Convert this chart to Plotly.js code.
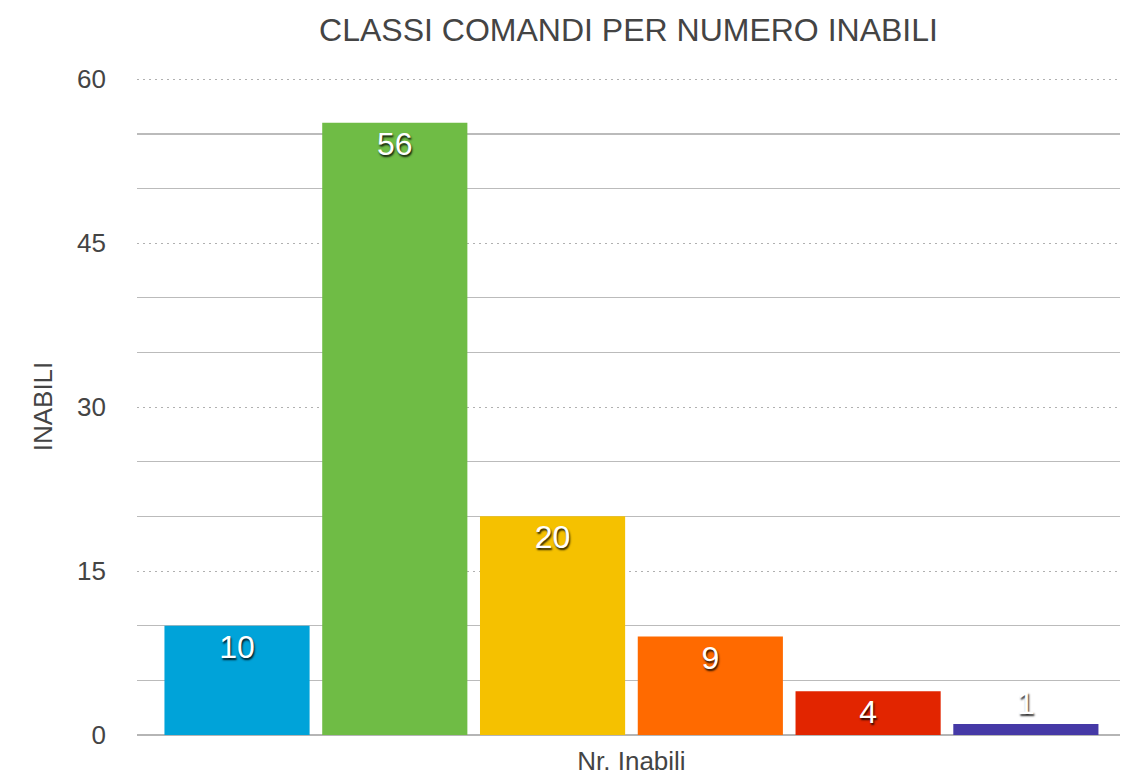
<!DOCTYPE html>
<html>
<head>
<meta charset="utf-8">
<script src="https://cdn.plot.ly/plotly-3.0.1.min.js"></script>
<style>html,body{margin:0;padding:0;background:#fff;}#chart{width:1121px;height:778px;}</style>
</head>
<body>
<div id="chart"></div>
<script>
const category = ['Nr. Inabili'];
const seriesNames = ['Classe 1', 'Classe 2', 'Classe 3', 'Classe 4', 'Classe 5', 'Classe 6'];
const seriesValues = [10, 56, 20, 9, 4, 1];
const seriesColors = ['#00a3d9', '#6fbc45', '#f5c100', '#ff6a00', '#e22500', '#4539a6'];
const yTicks = [0, 15, 30, 45, 60];
const yMinorTicks = [5, 10, 20, 25, 35, 40, 50, 55];

const traces = seriesNames.map((name, i) => ({
  type: 'bar',
  name: name,
  x: category,
  y: [seriesValues[i]],
  marker: { color: seriesColors[i] },
  text: [String(seriesValues[i])],
  textposition: seriesValues[i] >= 3 ? 'inside' : 'outside',
  insidetextanchor: 'end',
  cliponaxis: false,
  textfont: { family: 'Liberation Sans, Arial, sans-serif', size: 32, color: '#ffffff',
              shadow: '1px 2px 2px rgba(0,0,0,0.85)' },
  hoverinfo: 'name+y'
}));

const layout = {
  width: 1121, height: 778,
  margin: { l: 137, r: 1, t: 78, b: 43 },
  paper_bgcolor: '#ffffff', plot_bgcolor: '#ffffff',
  showlegend: false,
  barmode: 'group',
  bargap: 0.037,
  bargroupgap: 0.08,
  font: { family: 'Liberation Sans, Arial, sans-serif', color: '#444444' },
  title: {
    text: 'CLASSI COMANDI PER NUMERO INABILI',
    font: { size: 32, color: '#444444' },
    x: 0.5, xref: 'paper', xanchor: 'center',
    y: 1 - 30 / 778, yref: 'container', yanchor: 'middle'
  },
  xaxis: {
    type: 'category',
    range: [-0.503, 0.497],
    showgrid: false,
    showline: false,
    zeroline: false,
    ticks: '',
    tickfont: { size: 26, color: '#444444' },
    ticklabelstandoff: 8
  },
  yaxis: {
    range: [0, 60.1],
    tickmode: 'array',
    tickvals: yTicks,
    ticks: '',
    tickfont: { size: 26, color: '#444444' },
    ticklabelstandoff: 30,
    showgrid: true,
    gridcolor: '#b0b0b0',
    gridwidth: 1,
    griddash: '2px,4px',
    minor: { tickmode: 'array', tickvals: yMinorTicks, showgrid: true,
             gridcolor: '#bbbbbb', gridwidth: 1.5, griddash: 'solid' },
    zeroline: true,
    zerolinecolor: '#b5b5b5',
    zerolinewidth: 2,
    title: { text: 'INABILI', font: { size: 26, color: '#444444' }, standoff: 16 },
    automargin: false
  }
};

Plotly.newPlot('chart', traces, layout, { displayModeBar: false, staticPlot: true });
</script>
</body>
</html>
